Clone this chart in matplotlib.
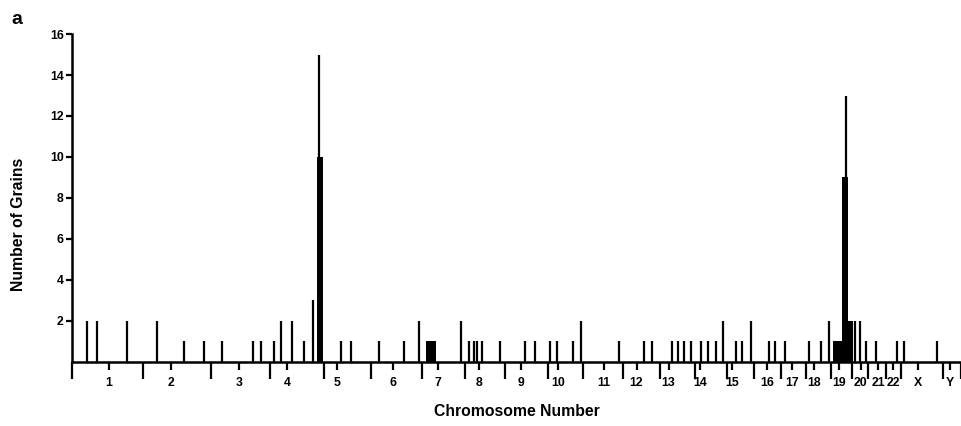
import numpy as np
import matplotlib.pyplot as plt

plt.rcParams['font.family'] = ['Liberation Sans', 'DejaVu Sans']
plt.rcParams['font.weight'] = 'bold'

# positions in % of haploid genome length
chrom_names = ['1', '2', '3', '4', '5', '6', '7', '8', '9', '10', '11', '12',
               '13', '14', '15', '16', '17', '18', '19', '20', '21', '22', 'X', 'Y']
chrom_bounds = [0, 8.0, 15.6, 22.3, 28.3, 33.6, 39.4, 44.2, 48.7, 53.5, 57.5, 62.0,
                66.1, 70.1, 73.7, 76.7, 79.8, 82.6, 85.4, 87.7, 89.5, 91.6, 93.3, 98.0, 100]
centromeres = [4.1, 11.1, 18.8, 24.2, 29.8, 36.1, 41.2, 45.8, 50.5, 54.7, 59.8, 63.5,
               67.1, 70.6, 74.2, 78.2, 81.0, 83.5, 86.3, 88.7, 90.7, 92.4, 95.2, 98.8]

# single grain sites
spike_pos = [1.7, 2.8, 6.2, 9.5, 12.6, 14.8, 16.9, 20.4, 21.3, 22.7, 23.5, 24.7, 26.1,
             27.1, 27.8, 30.3, 31.4, 34.5, 37.3, 39.0, 43.8, 44.6, 45.2, 45.6, 46.1,
             48.1, 51.0, 52.1, 53.8, 54.5, 56.4, 57.3, 61.5, 64.3, 65.2, 67.5, 68.2,
             68.8, 69.6, 70.8, 71.5, 72.4, 73.2, 74.7, 75.4, 76.4, 78.4, 79.1, 80.2,
             82.9, 84.3, 85.2, 87.1, 88.1, 88.6, 89.3, 90.4, 92.8, 93.6, 97.3]
spike_grains = [2, 2, 2, 2, 1, 1, 1, 1, 1, 1, 2, 2, 1,
                3, 15, 1, 1, 1, 1, 2, 2, 1, 1, 1, 1,
                1, 1, 1, 1, 1, 1, 2, 1, 1, 1, 1, 1,
                1, 1, 1, 1, 1, 2, 1, 1, 2, 1, 1, 1,
                1, 1, 2, 13, 2, 2, 1, 1, 1, 1, 1]

# runs of adjacent labelled bins
block_start = [27.5, 39.8, 85.6, 86.6, 86.6]
block_end = [28.2, 40.9, 87.9, 87.8, 87.3]
block_grains = [10, 1, 1, 2, 9]

fig = plt.figure(figsize=(9.61, 4.26), dpi=100)
ax = fig.add_axes([0.075, 0.151, 0.925, 0.769])

ax.vlines(spike_pos, 0, spike_grains, color='black', lw=1.6, capstyle='butt')
bs = np.array(block_start)
be = np.array(block_end)
ax.bar(bs, block_grains, width=be - bs, align='edge', color='black', lw=0)

ax.set_xlim(0, 100)
ax.set_ylim(0, 16)
ax.set_yticks(range(2, 17, 2))
ax.set_xticks(centromeres)
ax.set_xticklabels(chrom_names)
ax.set_xticks(chrom_bounds, minor=True)

ax.spines['top'].set_visible(False)
ax.spines['right'].set_visible(False)
ax.spines['left'].set_linewidth(1.8)
ax.spines['bottom'].set_linewidth(1.8)
ax.tick_params(axis='x', which='major', direction='out', length=6, width=1.6,
               pad=5, labelsize=8.8)
ax.tick_params(axis='x', which='minor', direction='out', length=12.5, width=1.6)
ax.tick_params(axis='y', direction='out', length=4, width=1.6, pad=2, labelsize=8.8)

ax.set_xlabel('Chromosome Number', fontsize=11.3, fontweight='bold', labelpad=11)
ax.set_ylabel('Number of Grains', fontsize=11.3, fontweight='bold')
ax.yaxis.set_label_coords(-0.052, 0.42)
fig.text(0.012, 0.975, 'a', fontsize=14, fontweight='bold', va='top')

fig.savefig('out.png', dpi=100)
